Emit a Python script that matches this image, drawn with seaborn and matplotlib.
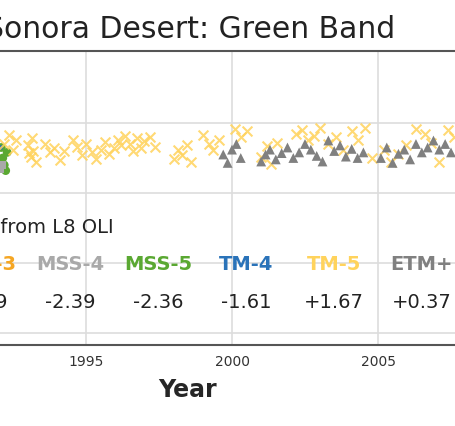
import numpy as np
import pandas as pd
import matplotlib
matplotlib.use("Agg")
import matplotlib.pyplot as plt
import seaborn as sns

sns.set_style("whitegrid")
plt.rcParams['font.family'] = ['DejaVu Sans']

# TM-5 observations (decimal year, green reflectance)
tm5_year = [1992.2, 1992.35, 1992.5, 1992.6, 1993.0, 1993.1, 1993.2, 1993.3, 1993.15, 1993.05,
            1993.6, 1993.75, 1993.9, 1994.1, 1994.25, 1994.55, 1994.7, 1994.85, 1995.0, 1995.2,
            1995.35, 1995.5, 1995.65, 1995.8, 1995.95, 1996.1, 1996.2, 1996.35, 1996.5, 1996.6,
            1996.75, 1996.9, 1997.0, 1997.2, 1997.35, 1998.0, 1998.15, 1998.3, 1998.45, 1998.6,
            1999.0, 1999.2, 1999.35, 1999.55, 2000.1, 2000.3, 2000.5, 2001.0, 2001.2, 2001.35,
            2001.55, 2002.2, 2002.4, 2002.6, 2002.8, 2003.0, 2003.3, 2003.55, 2003.8, 2004.1,
            2004.3, 2004.55, 2004.8, 2005.2, 2005.45, 2005.7, 2005.95, 2006.3, 2006.6, 2006.8,
            2007.1, 2007.4, 2007.6]
tm5_val = [0.270, 0.283, 0.262, 0.275, 0.268, 0.252, 0.260, 0.245, 0.278, 0.257,
           0.270, 0.258, 0.265, 0.247, 0.260, 0.275, 0.266, 0.255, 0.270, 0.258,
           0.248, 0.262, 0.273, 0.256, 0.265, 0.276, 0.268, 0.282, 0.270, 0.260,
           0.278, 0.265, 0.274, 0.280, 0.266, 0.248, 0.262, 0.255, 0.268, 0.245,
           0.283, 0.270, 0.262, 0.276, 0.292, 0.280, 0.288, 0.252, 0.267, 0.242,
           0.272, 0.285, 0.290, 0.275, 0.282, 0.293, 0.270, 0.280, 0.262, 0.288,
           0.275, 0.293, 0.250, 0.262, 0.245, 0.256, 0.268, 0.292, 0.285, 0.272,
           0.245, 0.290, 0.280]

# ETM+ observations
etm_year = [1999.7, 1999.85, 2000.0, 2000.15, 2000.3, 2001.0, 2001.15, 2001.3, 2001.5, 2001.7,
            2001.9, 2002.1, 2002.3, 2002.5, 2002.7, 2002.9, 2003.1, 2003.3, 2003.5, 2003.7,
            2003.9, 2004.1, 2004.3, 2004.5, 2005.1, 2005.3, 2005.5, 2005.7, 2005.9, 2006.1,
            2006.3, 2006.5, 2006.7, 2006.9, 2007.1, 2007.3, 2007.5]
etm_val = [0.255, 0.243, 0.262, 0.270, 0.250, 0.245, 0.255, 0.262, 0.248, 0.257,
           0.265, 0.250, 0.258, 0.270, 0.262, 0.253, 0.245, 0.275, 0.260, 0.268,
           0.252, 0.263, 0.250, 0.258, 0.250, 0.265, 0.243, 0.256, 0.262, 0.248,
           0.270, 0.258, 0.265, 0.275, 0.262, 0.270, 0.258]

mss5_year = [1992.1, 1992.15, 1992.2, 1992.25, 1992.3]
mss5_val = [0.265, 0.250, 0.240, 0.232, 0.258]
mss4_year = [1992.05, 1992.1]
mss4_val = [0.235, 0.240]
tm4_year = [1992.08]
tm4_val = [0.265]

sensors = ["MSS-3", "MSS-4", "MSS-5", "TM-4", "TM-5", "ETM+"]
colors = ["#f5a623", "#a9a9a9", "#5aa832", "#2a73b9", "#ffd35c", "#808080"]
offsets = ["-2.19", "-2.39", "-2.36", "-1.61", "+1.67", "+0.37"]

W, H = 456, 426
fig = plt.figure(figsize=(W / 100, H / 100), dpi=100)
ax = fig.add_axes([-120 / W, (H - 345) / H, 616 / W, 294 / H])

ax.scatter(tm5_year, tm5_val, marker="x", s=50, color=colors[4], alpha=0.85, linewidths=1.5, zorder=3)
ax.scatter(etm_year, etm_val, marker="^", s=50, color=colors[5], edgecolors="none", zorder=3)
ax.scatter(mss5_year, mss5_val, marker="o", s=40, color=colors[2], edgecolors="none", zorder=2)
ax.scatter(mss4_year, mss4_val, marker="s", s=40, color=colors[1], edgecolors="none", zorder=2)
ax.scatter(tm4_year, tm4_val, marker="o", s=12, color=colors[3], edgecolors="none", zorder=2)

ax.set_xticks([1995, 2000, 2005])
ax.set_yticks([0.0, 0.1, 0.2, 0.3])
# x: 1995 at px 86, 29.2 px per year
x_left = 1995 - (86 + 120) / 29.2
ax.set_xlim(x_left, x_left + 616 / 29.2)
ax.set_ylim(0.3 - (345 - 123) / 700, 0.3 + (123 - 51) / 700)
ax.tick_params(axis="x", labelsize=10, colors="#333333", length=4)
ax.tick_params(axis="y", labelleft=False)
ax.grid(color="#dddddd", linewidth=1.2)
for s in ax.spines.values():
    s.set_color("#555555")
    s.set_linewidth(1.5)
ax.set_xlabel("Year", fontsize=17, fontweight="bold", labelpad=6)
ax.set_title("Sonora Desert: Green Band", fontsize=21.5, color="#222222", pad=9,
             x=0.5 + 2 / 616)

fig.text(114 / W, 1 - 228 / H, "Offset from L8 OLI", ha="right", va="center", fontsize=14, color="#222222")
xs = [-18, 70, 158, 246, 334, 422]
for x, name, c, off in zip(xs, sensors, colors, offsets):
    fig.text(x / W, 1 - 265 / H, name, ha="center", va="center", fontsize=14, fontweight="bold", color=c)
    fig.text(x / W, 1 - 302 / H, off, ha="center", va="center", fontsize=14, color="#222222")

fig.savefig("out.png", dpi=100)
